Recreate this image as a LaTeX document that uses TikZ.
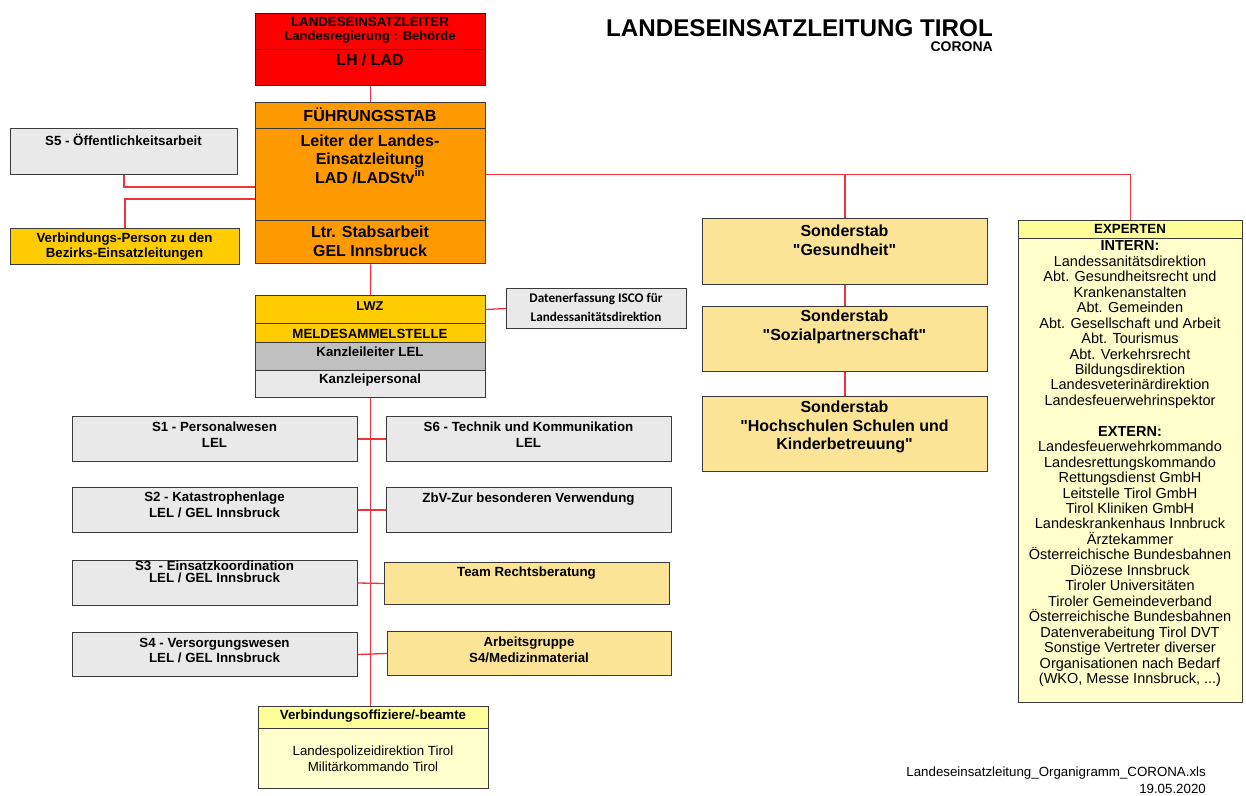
\documentclass[tikz,border=0pt]{standalone}
\usepackage{fontspec}
\setmainfont{Liberation Sans}
\newfontfamily\calfont{Carlito}
\definecolor{cRed}{HTML}{FF0000}
\definecolor{cRedB}{HTML}{6A0000}
\definecolor{cOrange}{HTML}{FF9900}
\definecolor{cGold}{HTML}{FFCC00}
\definecolor{cGreyL}{HTML}{E9E9E9}
\definecolor{cGreyM}{HTML}{C0C0C0}
\definecolor{cSand}{HTML}{FCE497}
\definecolor{cPale}{HTML}{FFFFCC}
\definecolor{cPaleH}{HTML}{FFFF99}
\definecolor{cBord}{HTML}{3A3A3A}
\definecolor{cLine}{HTML}{F0323C}
\newcommand\dq{\XeTeXglyph\XeTeXcharglyph"22\relax}
\begin{document}
\begin{tikzpicture}[x=1pt,y=-1pt,
  bx/.style 2 args={draw=cBord, line width=1pt, inner sep=0pt, anchor=north west, rectangle, minimum width=#1, minimum height=#2},
  tb/.style={font=\fontsize{13.3}{16}\selectfont\bfseries, align=center, inner sep=0pt},
  tr/.style={font=\fontsize{13.3}{15.7}\selectfont, align=center, inner sep=0pt},
  tbig/.style={font=\fontsize{16}{18.5}\selectfont\bfseries, align=center, inner sep=0pt},
  conn/.style={draw=cLine, line width=1.3pt}]
\useasboundingbox (0,0) rectangle (1246,795);
\fill[white] (0,0) rectangle (1246,795);

% title
\node[inner sep=0pt, anchor=east, font=\fontsize{24.2}{26}\selectfont\bfseries] (title) at (993,28) {LANDESEINSATZLEITUNG TIROL};
\node[inner sep=0pt, anchor=east, font=\fontsize{14}{16}\selectfont\bfseries] (corona) at (993,46.5) {CORONA};

% Landeseinsatzleiter
\node[bx={230pt}{36pt}, fill=cRed, draw=cRedB] (led1) at (255,13) {};
\node[bx={230pt}{36pt}, fill=cRed, draw=cRedB] (led2) at (255,49) {};
\node[tb] (led1t) at (370,22) {LANDESEINSATZLEITER};
\node[tb, font=\fontsize{13}{15}\selectfont\bfseries] (led1u) at (370,37) {Landesregierung : Behörde};
\node[tbig] (led2t) at (370,60) {LH / LAD};

% Fuehrungsstab
\node[bx={230pt}{26pt}, fill=cOrange] (fs1) at (255,102) {};
\node[bx={230pt}{92pt}, fill=cOrange] (fs2) at (255,128) {};
\node[bx={230pt}{43pt}, fill=cOrange, line width=1.4pt] (fs3) at (255,220) {};
\node[tbig] (fs1t) at (370,114.5) {FÜHRUNGSSTAB};
\node[tbig] (fs2t) at (370,159) {Leiter der Landes-\\Einsatzleitung\\LAD /LADStv\textsuperscript{in}};
\node[tbig] (fs3t) at (370,241.5) {Ltr. Stabsarbeit\\GEL Innsbruck};

% left side
\node[bx={227pt}{46pt}, fill=cGreyL] (s5) at (10,128) {};
\node[tb] (s5t) at (123.5,140) {S5 - Öffentlichkeitsarbeit};
\node[bx={229pt}{36pt}, fill=cGold] (vp) at (10,228) {};
\node[tb, font=\fontsize{13.3}{15.3}\selectfont\bfseries] (vpt) at (124.5,246.5) {Verbindungs-Person zu den\\Bezirks-Einsatzleitungen};

% LWZ block
\node[bx={230pt}{28pt}, fill=cGold] (lwz) at (255,295) {};
\node[bx={230pt}{19pt}, fill=cGold] (msl) at (255,323) {};
\node[bx={230pt}{28pt}, fill=cGreyM] (kl) at (255,342) {};
\node[bx={230pt}{27pt}, fill=cGreyL] (kp) at (255,370) {};
\node[tb, font=\fontsize{12.8}{15}\selectfont\bfseries] (lwzt) at (370,306.5) {LWZ};
\node[tb] (mslt) at (370,334) {MELDESAMMELSTELLE};
\node[tb] (klt) at (370,352) {Kanzleileiter LEL};
\node[tb] (kpt) at (370,380.5) {Kanzleipersonal};

\node[bx={180pt}{40pt}, fill=cGreyL] (dat) at (506,288) {};
\node[inner sep=0pt, align=center, font=\calfont\fontsize{13.2}{18.4}\selectfont\bfseries] (datt) at (596,307.5) {Datenerfassung ISCO für\\Landessanitätsdirektion};

% S boxes
\node[bx={285pt}{45pt}, fill=cGreyL] (s1) at (72,416) {};
\node[bx={285pt}{45pt}, fill=cGreyL] (s6) at (386,416) {};
\node[bx={285pt}{45pt}, fill=cGreyL] (s2) at (72,487) {};
\node[bx={285pt}{45pt}, fill=cGreyL] (zbv) at (386,487) {};
\node[bx={285pt}{45pt}, fill=cGreyL] (s3) at (72,560) {};
\node[bx={285pt}{42pt}, fill=cSand] (trb) at (384,562) {};
\node[bx={285pt}{44pt}, fill=cGreyL] (s4) at (72,632) {};
\node[bx={284pt}{44pt}, fill=cSand] (ag) at (387,631) {};

\node[tb] (s1t) at (214.5,435) {S1 - Personalwesen\\LEL};
\node[tb] (s6t) at (528.5,435) {S6 - Technik und Kommunikation\\LEL};
\node[tb] (s2t) at (214.5,505.3) {S2 - Katastrophenlage\\LEL / GEL Innsbruck};
\node[tb] (zbvt) at (528.5,499) {ZbV-Zur besonderen Verwendung};
\node[tb, font=\fontsize{13.3}{12.5}\selectfont\bfseries] (s3t) at (214.5,572) {S3\ \ - Einsatzkoordination\\LEL / GEL Innsbruck};
\node[tb] (trt) at (526.5,572.7) {Team Rechtsberatung};
\node[tb, font=\fontsize{13.3}{15.7}\selectfont\bfseries] (s4t) at (214.5,650.5) {S4 - Versorgungswesen\\LEL / GEL Innsbruck};
\node[tb, font=\fontsize{13.3}{15.7}\selectfont\bfseries] (agt) at (529,649.5) {Arbeitsgruppe\\S4/Medizinmaterial};

% Verbindungsoffiziere
\node[bx={230pt}{22pt}, fill=cPaleH] (vo1) at (258,706) {};
\node[bx={230pt}{60pt}, fill=cPale] (vo2) at (258,728) {};
\node[tb] (vo1t) at (373,716.5) {Verbindungsoffiziere/-beamte};
\node[tr] (vo2t) at (373,759) {Landespolizeidirektion Tirol\\Militärkommando Tirol};

% Sonderstaebe
\node[bx={285pt}{66pt}, fill=cSand] (so1) at (702,218) {};
\node[bx={285pt}{65pt}, fill=cSand] (so2) at (702,306) {};
\node[bx={285pt}{75pt}, fill=cSand] (so3) at (702,396) {};
\node[tbig, font=\fontsize{16}{19}\selectfont\bfseries] (so1t) at (844.5,240.3) {Sonderstab\\\dq Gesundheit\dq};
\node[tbig, font=\fontsize{16}{19}\selectfont\bfseries] (so2t) at (844.5,327) {Sonderstab\\\dq Sozialpartnerschaft\dq};
\node[tbig, font=\fontsize{16}{18.7}\selectfont\bfseries] (so3t) at (844.5,427) {Sonderstab\\\dq Hochschulen Schulen und\\Kinderbetreuung\dq};

% Experten
\node[bx={224pt}{18pt}, fill=cPaleH] (ex1) at (1018,220) {};
\node[bx={224pt}{464pt}, fill=cPale] (ex2) at (1018,238) {};
\node[tb] (ex1t) at (1130,228.5) {EXPERTEN};
\node[inner sep=0pt, align=center, anchor=north, font=\fontsize{14.5}{15.45}\selectfont] (ex2t) at (1130,240.7) {\textbf{INTERN:}\\Landessanitätsdirektion\\Abt. Gesundheitsrecht und\\Krankenanstalten\\Abt. Gemeinden\\Abt. Gesellschaft und Arbeit\\Abt. Tourismus\\Abt. Verkehrsrecht\\Bildungsdirektion\\Landesveterinärdirektion\\Landesfeuerwehrinspektor\\[15.45pt]\textbf{EXTERN:}\\Landesfeuerwehrkommando\\Landesrettungskommando\\Rettungsdienst GmbH\\Leitstelle Tirol GmbH\\Tirol Kliniken GmbH\\Landeskrankenhaus Innbruck\\Ärztekammer\\Österreichische Bundesbahnen\\Diözese Innsbruck\\Tiroler Universitäten\\Tiroler Gemeindeverband\\Österreichische Bundesbahnen\\Datenverabeitung Tirol DVT\\Sonstige Vertreter diverser\\Organisationen nach Bedarf\\(WKO, Messe Innsbruck, ...)};

% footer
\node[inner sep=0pt, anchor=east, font=\fontsize{13.3}{15}\selectfont] (foot1) at (1206,773) {Landeseinsatzleitung\_Organigramm\_CORONA.xls};
\node[inner sep=0pt, anchor=east, font=\fontsize{13.3}{15}\selectfont] (foot2) at (1206,789) {19.05.2020};

% connectors
\draw[conn] (led2.south) -- (fs1.north);
\draw[conn] (s5.south) |- (fs2.west |- 0,187);
\draw[conn] (vp.north) |- (fs2.west |- 0,199);
\draw[conn] (fs2.east) -| (ex1.north);
\draw[conn] (fs2.east -| so1.north) -- (so1.north);
\draw[conn] (so1.south) -- (so2.north);
\draw[conn] (so2.south) -- (so3.north);
\draw[conn] (fs3.south) -- (lwz.north);
\draw[conn] (lwz.east) -- (dat.west);
\draw[conn] (kp.south) -- (kp.south |- vo1.north);
\draw[conn] (s1.east) -- (s6.west);
\draw[conn] (s2.east) -- (zbv.west);
\draw[conn] (s3.east) -- (trb.west);
\draw[conn] (s4.east) -- (ag.west);
\end{tikzpicture}
\end{document}
